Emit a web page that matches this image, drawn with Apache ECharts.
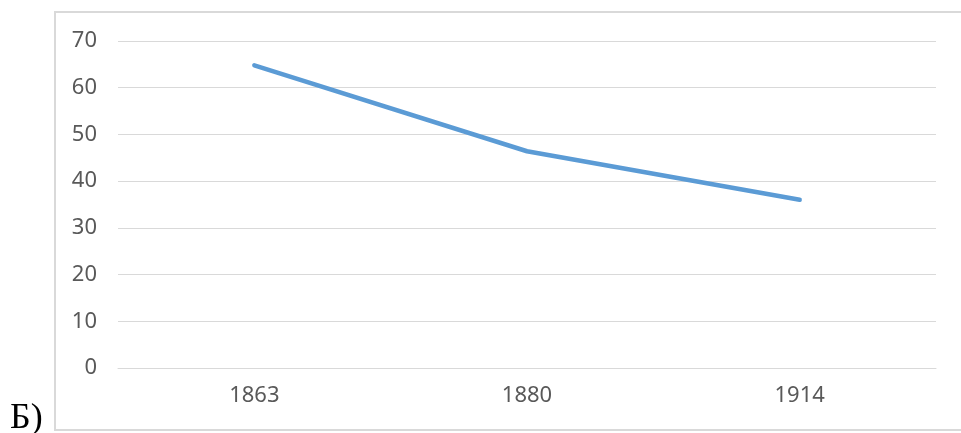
<!DOCTYPE html>
<html>
<head>
<meta charset="utf-8">
<script src="https://cdn.jsdelivr.net/npm/echarts@6/dist/echarts.min.js"></script>
<style>
html,body{margin:0;padding:0;background:#fff;overflow:hidden;width:961px;height:433px;}
#frame{position:absolute;left:54px;top:11px;width:907px;height:416px;border-top:2px solid #d9d9d9;border-left:2px solid #d9d9d9;border-bottom:2px solid #d9d9d9;box-sizing:border-box;height:420px;}
#chart{position:absolute;left:0;top:0;width:961px;height:433px;}
</style>
</head>
<body>
<div id="frame"></div>
<div id="chart"></div>
<script>
var categories = ['1863', '1880', '1914'];
var values = [64.8, 46.4, 36.0];
var yTicks = {min: 0, max: 70, interval: 10};
var caption = 'Б)';

var chart = echarts.init(document.getElementById('chart'), null, {renderer: 'canvas'});
chart.setOption({
  animation: false,
  backgroundColor: 'transparent',
  grid: {left: 118, right: 25, top: 41, bottom: 65, containLabel: false},
  xAxis: {
    type: 'category',
    data: categories,
    boundaryGap: true,
    axisLine: {show: true, lineStyle: {color: '#d9d9d9', width: 1}},
    axisTick: {show: false},
    axisLabel: {color: '#595959', fontFamily: 'Noto Sans', fontSize: 22, margin: 17}
  },
  yAxis: {
    type: 'value',
    min: yTicks.min, max: yTicks.max, interval: yTicks.interval,
    axisLine: {show: false},
    axisTick: {show: false},
    splitLine: {lineStyle: {color: '#d9d9d9', width: 1}},
    axisLabel: {color: '#595959', fontFamily: 'Noto Sans', fontSize: 22, margin: 21}
  },
  series: [{
    type: 'line',
    data: values,
    showSymbol: false,
    symbol: 'none',
    lineStyle: {color: '#5B9BD5', width: 4.5, cap: 'round', join: 'round'}
  }],
  graphic: [{
    type: 'text',
    left: 10,
    top: 401,
    style: {text: caption, fontFamily: 'Liberation Serif', fontSize: 36, fill: '#000'}
  }]
});
</script>
</body>
</html>
